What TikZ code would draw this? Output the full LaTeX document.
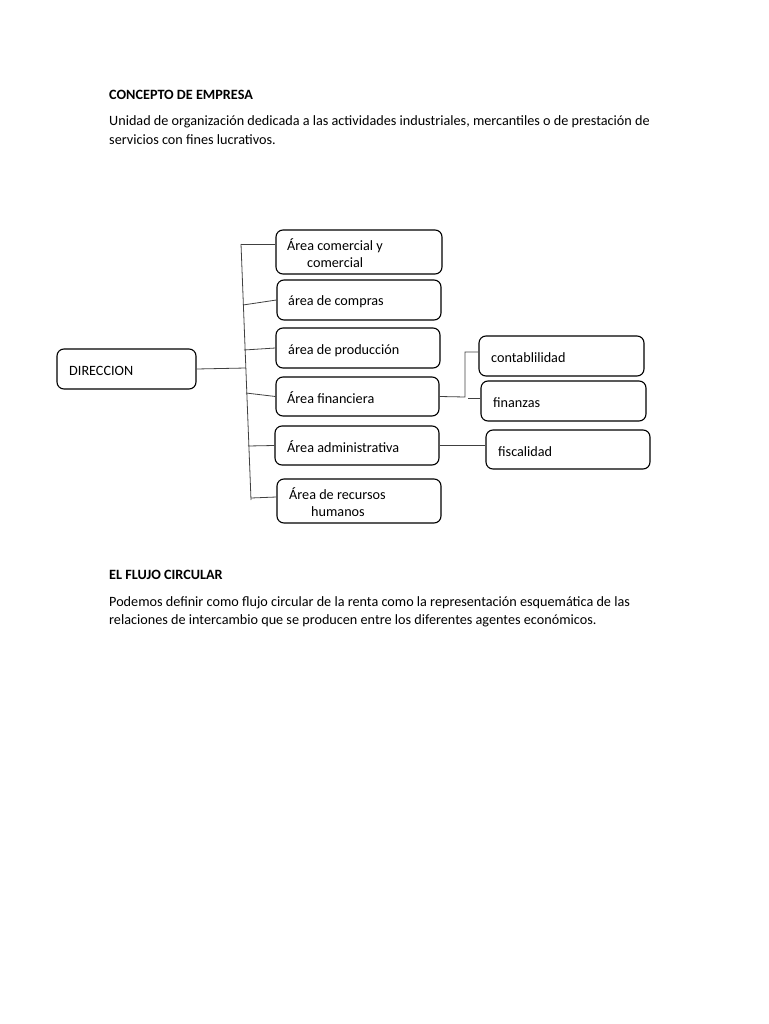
\documentclass[tikz,border=0pt]{standalone}
\usepackage{fontspec}
\setmainfont{Carlito}
\begin{document}
\begin{tikzpicture}[x=1pt,y=-1pt,
  every node/.style={font=\fontsize{14.2}{17}\selectfont, text=black},
  box/.style={draw=black, line width=1.1pt, rounded corners=7pt, rectangle, inner sep=0pt},
  link/.style={draw=black!75, line width=0.8pt},
  para/.style={anchor=base west, inner sep=0pt}]
\useasboundingbox (0,0) rectangle (768,1024);
% text
\node[para, font=\fontsize{14.2}{17}\selectfont\bfseries] (h1) at (109,100) {CONCEPTO DE EMPRESA};
\node[para] (p1a) at (109,126) {Unidad de organización dedicada a las actividades industriales, mercantiles o de prestación de};
\node[para] (p1b) at (109,145) {servicios con fines lucrativos.};
\node[para, font=\fontsize{14.2}{17}\selectfont\bfseries] (h2) at (109,579) {EL FLUJO CIRCULAR};
\node[para] (p2a) at (109,606) {Podemos definir como flujo circular de la renta como la representación esquemática de las};
\node[para] (p2b) at (109,624) {relaciones de intercambio que se producen entre los diferentes agentes económicos.};
% boxes
\node[box, minimum width=139pt, minimum height=40pt] (dir) at (126.5,369) {};
\node[box, minimum width=166pt, minimum height=44pt] (com) at (359,252) {};
\node[box, minimum width=164pt, minimum height=40pt] (compras) at (359,300) {};
\node[box, minimum width=164pt, minimum height=40pt] (prod) at (358,348) {};
\node[box, minimum width=163pt, minimum height=39pt] (fin) at (357.5,396.5) {};
\node[box, minimum width=164pt, minimum height=39pt] (adm) at (357,445.5) {};
\node[box, minimum width=164pt, minimum height=44pt] (rrhh) at (359,501) {};
\node[box, minimum width=165pt, minimum height=40pt] (cont) at (561.5,356) {};
\node[box, minimum width=165pt, minimum height=40pt] (finz) at (563.5,401) {};
\node[box, minimum width=164pt, minimum height=39pt] (fisc) at (568,449.5) {};
% box labels
\node[para] (tdirl) at (69,375) {DIRECCION};
\node[para] (tcoma) at (287,250) {Área comercial y};
\node[para] (tcomb) at (307,267) {comercial};
\node[para] (tcompl) at (288,305) {área de compras};
\node[para] (tprodl) at (288,354) {área de producción};
\node[para] (tfinl) at (287,403) {Área financiera};
\node[para] (tadml) at (287,452) {Área administrativa};
\node[para] (trha) at (289,499) {Área de recursos};
\node[para] (trhb) at (311,516) {humanos};
\node[para] (tcontl) at (491,362) {contablilidad};
\node[para] (tfinzl) at (493,407) {finanzas};
\node[para] (tfiscl) at (498,456) {fiscalidad};
% trunk
\coordinate (ttop) at (241,244);
\coordinate (tbot) at (251,500);
\coordinate (tdir) at (246,368);
\coordinate (tcom) at (241,244);
\coordinate (tcomp) at (243,305);
\coordinate (tprod) at (244,350);
\coordinate (tfin) at (246,393);
\coordinate (tadm) at (248,446);
\coordinate (trh) at (251,498);
\draw[link] (ttop) -- (tbot);
\draw[link] (dir.east) -- (tdir);
\draw[link] (tcom) -- (com.west |- 0,244);
\draw[link] (tcomp) -- (compras.west);
\draw[link] (tprod) -- (prod.west);
\draw[link] (tfin) -- (fin.west);
\draw[link] (tadm) -- (adm.west);
\draw[link] (trh) -- (rrhh.west |- 0,497);
% finance branch
\coordinate (fj) at (465,397);
\coordinate (fjt) at (465,352);
\coordinate (fk) at (468,398);
\draw[link] (fin.east) -- (fj) -- (fjt) -- (cont.west |- fjt);
\draw[link] (fk) -- (finz.west |- fk);
\draw[link] (adm.east) -- (fisc.west |- adm.east);
\end{tikzpicture}
\end{document}
